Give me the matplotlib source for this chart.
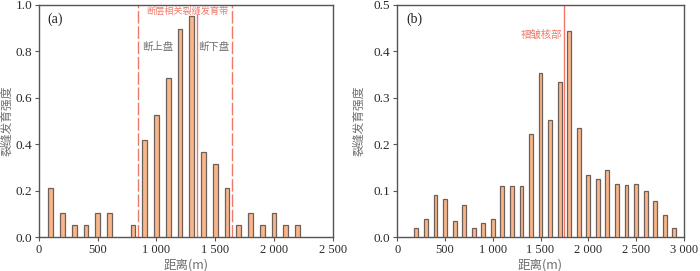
import matplotlib
matplotlib.use("Agg")
import matplotlib.pyplot as plt

# Panel (a)
pos_a = [100, 200, 300, 400, 500, 600, 800, 900, 1000, 1100, 1200, 1300, 1400,
         1500, 1600, 1700, 1800, 1900, 2000, 2100, 2200]
val_a = [0.21, 0.105, 0.053, 0.053, 0.105, 0.105, 0.053, 0.42, 0.526, 0.684,
         0.895, 0.95, 0.368, 0.316, 0.21, 0.053, 0.105, 0.053, 0.105, 0.053, 0.053]
xticks_a = [0, 500, 1000, 1500, 2000, 2500]
xticklabels_a = ["0", "500", "1 000", "1 500", "2 000", "2 500"]
yticks_a = [0.0, 0.2, 0.4, 0.6, 0.8, 1.0]
zone_a = [845, 1645]
fault_a = 1345

# Panel (b)
pos_b = list(range(200, 3000, 100))
val_b = [0.02, 0.04, 0.09, 0.082, 0.035, 0.07, 0.02, 0.03, 0.04, 0.111, 0.111,
         0.111, 0.222, 0.353, 0.252, 0.334, 0.444, 0.234, 0.134, 0.125, 0.145,
         0.114, 0.113, 0.114, 0.10, 0.079, 0.049, 0.019]
xticks_b = [0, 500, 1000, 1500, 2000, 2500, 3000]
xticklabels_b = ["0", "500", "1 000", "1 500", "2 000", "2 500", "3 000"]
yticks_b = [0.0, 0.1, 0.2, 0.3, 0.4, 0.5]
core_b = 1743

face = "#F8B68A"
edge = "#6E6058"
red = "#F07868"
gray = "#707070"
spine = "#555555"
num_font = "Liberation Serif"
cjk = ["Noto Sans CJK SC", "DejaVu Sans"]

fig = plt.figure(figsize=(7.0, 2.71), dpi=100)
ax1 = fig.add_axes([39/700, 33.7/271, 293.7/700, 232.5/271])
ax2 = fig.add_axes([397.3/700, 33.7/271, 286.5/700, 232.5/271])

def style(ax, xt, xtl, yt, xmax, ymax, ylx):
    ax.set_xlim(0, xmax)
    ax.set_ylim(0, ymax)
    ax.set_xticks(xt)
    ax.set_xticklabels(xtl, fontfamily=num_font, fontsize=9, color="#2a2a2a")
    ax.set_yticks(yt)
    ax.set_yticklabels([f"{v:.1f}" for v in yt], fontfamily=num_font, fontsize=9.5, color="#2a2a2a")
    ax.tick_params(direction="out", length=3, width=0.8, color=spine, pad=2)
    for s in ax.spines.values():
        s.set_color(spine)
        s.set_linewidth(1.0)
    ax.set_xlabel("距离(m)", fontfamily=cjk, fontsize=9, color=gray)
    ax.set_ylabel("裂缝发育强度", fontfamily=cjk, fontsize=8.5, color=gray)
    ax.xaxis.set_label_coords(0.5, -0.092)
    ax.yaxis.set_label_coords(ylx, 0.5)

ax1.bar(pos_a, val_a, width=40, color=face, edgecolor=edge, linewidth=0.9, zorder=3)
style(ax1, xticks_a, xticklabels_a, yticks_a, 2500, 1.0, -0.087)
for xz in zone_a:
    ax1.axvline(xz, color=red, lw=1.0, ls=(0, (9, 2)), zorder=2)
ax1.axvline(fault_a, ymax=0.955, color=red, lw=1.0, zorder=2)
ax1.text(1262, 0.975, "断层相关裂缝发育带", fontfamily=cjk, fontsize=6.6,
         color=red, ha="center", va="center")
ax1.text(1008, 0.82, "断上盘", fontfamily=cjk, fontsize=7.5, color=gray, ha="center", va="center")
ax1.text(1490, 0.82, "断下盘", fontfamily=cjk, fontsize=7.5, color=gray, ha="center", va="center")
ax1.text(0.03, 0.965, "(a)", transform=ax1.transAxes, fontfamily=num_font, fontsize=10,
         color="#222222", ha="left", va="top")

ax2.bar(pos_b, val_b, width=40, color=face, edgecolor=edge, linewidth=0.9, zorder=3)
style(ax2, xticks_b, xticklabels_b, yticks_b, 3000, 0.5, -0.112)
ax2.axvline(core_b, color=red, lw=1.0, zorder=2)
ax2.text(core_b - 15, 0.435, "褶皱核部", fontfamily=cjk, fontsize=7.5, color=red,
         ha="right", va="center")
ax2.text(0.03, 0.965, "(b)", transform=ax2.transAxes, fontfamily=num_font, fontsize=10,
         color="#222222", ha="left", va="top")

fig.savefig("out.png", dpi=100)
